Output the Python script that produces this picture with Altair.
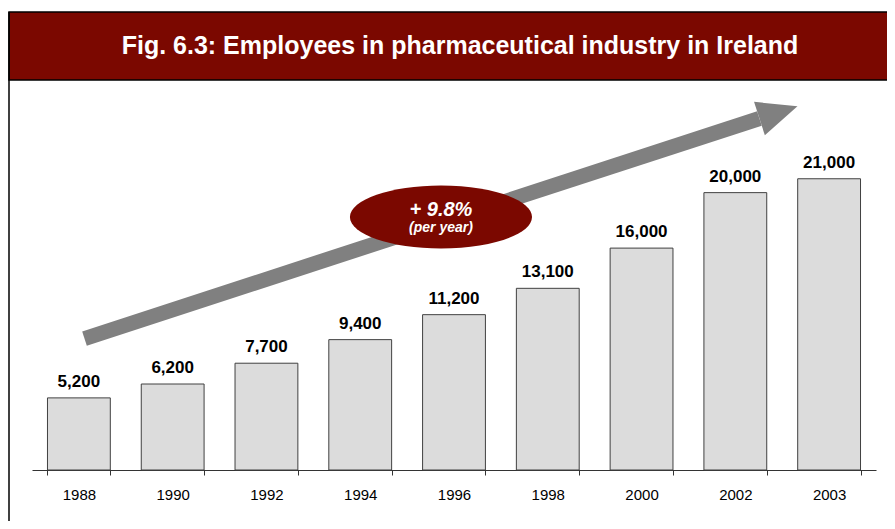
import altair as alt
import pandas as pd

# ---- data ----
years = ["1988", "1990", "1992", "1994", "1996", "1998", "2000", "2002", "2003"]
employees = [5200, 6200, 7700, 9400, 11200, 13100, 16000, 20000, 21000]

title_text = "Fig. 6.3: Employees in pharmaceutical industry in Ireland"
growth_text = "+ 9.8%"
growth_sub = "(per year)"

# trend arrow in band-index units (x) and employee units (y)
arrow_x = [0.56, 7.757]
arrow_y = [9480, 25345]
# growth badge position
badge_x = [4.361]
badge_y = [18240]

# ---- layout / style ----
W, H = 844, 380
YMAX = 27400
FONT = "Liberation Sans, Arial, Helvetica, sans-serif"
DARK_RED = "#7B0800"
ARROW_GREY = "#808080"

df = pd.DataFrame({"year": years, "employees": employees})
arrow_df = pd.DataFrame({"pos": arrow_x, "val": arrow_y, "order": [0, 1]})
head_df = pd.DataFrame({"pos": [arrow_x[-1]], "val": [arrow_y[-1]]})
badge_df = pd.DataFrame({"pos": badge_x, "val": badge_y,
                         "t1": [growth_text], "t2": [growth_sub]})
title_df = pd.DataFrame({"t": [title_text]})

yscale = alt.Scale(domain=[0, YMAX], nice=False, zero=True)
xq = alt.X("pos:Q", scale=alt.Scale(domain=[0, 9], nice=False, zero=False), axis=None)
yq = alt.Y("val:Q", scale=yscale, axis=None)

title_bar = alt.Chart(title_df).mark_rect(
    fill=DARK_RED, stroke="black", strokeWidth=1.5
).encode(x=alt.value(-23), x2=alt.value(W + 60), y=alt.value(-78), y2=alt.value(-10))

title_txt = alt.Chart(title_df).mark_text(
    font=FONT, fontSize=25, fontWeight="bold", color="white",
    align="center", baseline="alphabetic"
).encode(x=alt.value(428), y=alt.value(-36.5), text="t:N")

frame = alt.Chart(title_df).mark_rule(color="black", strokeWidth=1.5).encode(
    x=alt.value(-23), y=alt.value(-78), y2=alt.value(H + 60)
)

shaft = alt.Chart(arrow_df).mark_line(
    color=ARROW_GREY, strokeWidth=15, strokeCap="butt"
).encode(x=xq, y=yq, order="order:Q")

head = alt.Chart(head_df).mark_point(
    shape="M 0 -1.75 L 4 0 L 0 1.75 Z", size=400, angle=342,
    filled=True, color=ARROW_GREY, opacity=1, strokeWidth=0
).encode(x=xq, y=yq)

ellipse = alt.Chart(badge_df).mark_point(
    shape="M -2.89 0 A 2.89 1 0 1 1 2.89 0 A 2.89 1 0 1 1 -2.89 0 Z",
    size=3969, filled=True, color=DARK_RED, opacity=1, strokeWidth=0
).encode(x=xq, y=yq)

badge_t1 = alt.Chart(badge_df).mark_text(
    font=FONT, fontSize=20, fontWeight="bold", fontStyle="italic", color="white",
    align="center", baseline="alphabetic", dy=-1
).encode(x=xq, y=yq, text="t1:N")

badge_t2 = alt.Chart(badge_df).mark_text(
    font=FONT, fontSize=14, fontWeight="bold", fontStyle="italic", color="white",
    align="center", baseline="alphabetic", dy=15
).encode(x=xq, y=yq, text="t2:N")

band_scale = alt.Scale(paddingInner=0.33, paddingOuter=0.165)
xband = alt.X(
    "year:N", sort=years, scale=band_scale,
    axis=alt.Axis(title=None, labelAngle=0, labelFont=FONT, labelFontSize=15,
                  labelColor="black", labelPadding=12, tickBand="extent",
                  tickSize=5, tickColor="#333333", tickWidth=1,
                  domainColor="#333333", domainWidth=1, grid=False)
)

bars = alt.Chart(df).mark_bar(fill="#DCDCDC", stroke="#404040", strokeWidth=1).encode(
    x=xband, y=alt.Y("employees:Q", scale=yscale, axis=None)
)

labels = alt.Chart(df).mark_text(
    font=FONT, fontSize=17, fontWeight="bold", color="black",
    align="center", baseline="alphabetic", dy=-11
).encode(
    x=xband,
    y=alt.Y("employees:Q", scale=yscale, axis=None),
    text=alt.Text("employees:Q", format=",")
)

bar_layer = alt.layer(bars, labels)

chart = alt.layer(
    title_bar, title_txt, frame, shaft, head, ellipse, badge_t1, badge_t2, bar_layer
).resolve_scale(x="independent").properties(
    width=W, height=H,
    padding={"left": 24, "top": 82, "right": 11, "bottom": 51},
    autosize="none",
    background="white"
).configure_view(stroke=None)

chart.save("out.html", embed_options={"renderer": "svg", "actions": False})
